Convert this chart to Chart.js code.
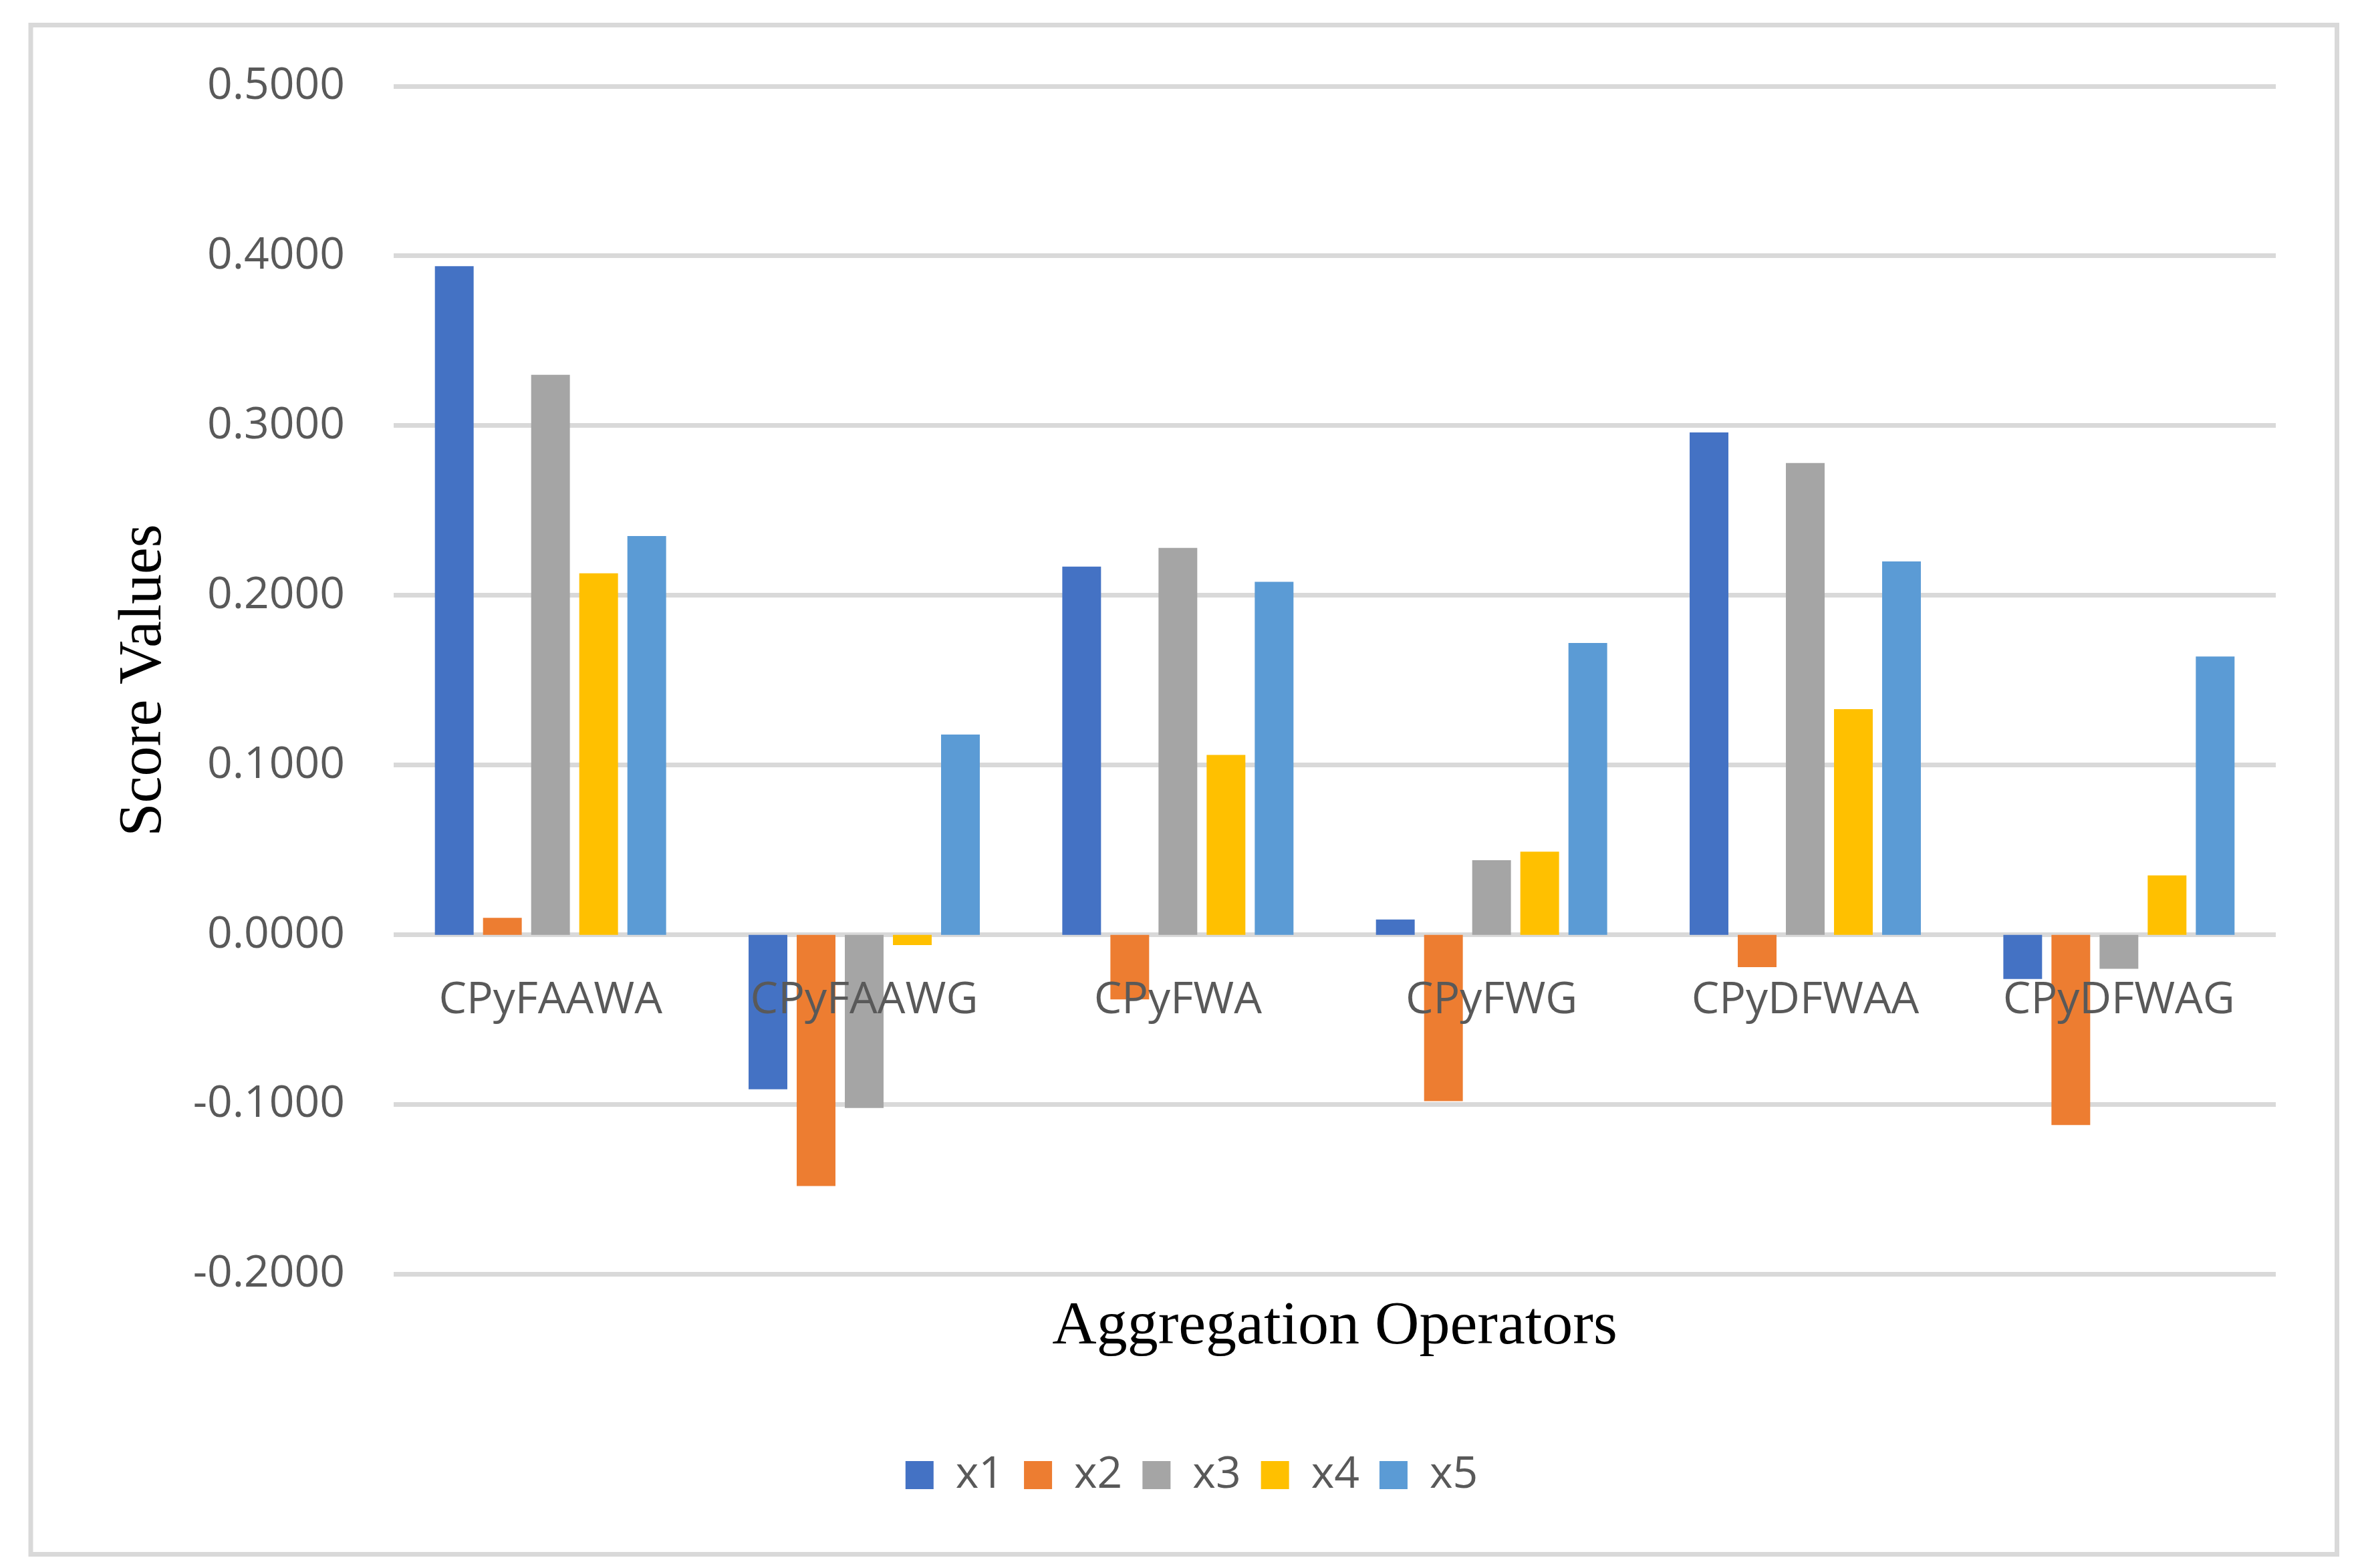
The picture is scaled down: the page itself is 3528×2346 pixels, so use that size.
<!DOCTYPE html>
<html>
<head>
<meta charset="utf-8">
<style>
  html, body { margin: 0; padding: 0; background: #fff; }
  #chart { display: block; }
</style>
<script src="https://cdn.jsdelivr.net/npm/chart.js@4.4.1/dist/chart.umd.min.js"></script>
</head>
<body>
<canvas id="chart" width="3528" height="2346" style="width:3528px;height:2346px"></canvas>
<script>
var categories = ['CPyFAAWA', 'CPyFAAWG', 'CPyFWA', 'CPyFWG', 'CPyDFWAA', 'CPyDFWAG'];
var x1 = [0.394, -0.091, 0.217, 0.009, 0.296, -0.026];
var x2 = [0.010, -0.148, -0.038, -0.098, -0.019, -0.112];
var x3 = [0.330, -0.102, 0.228, 0.044, 0.278, -0.020];
var x4 = [0.213, -0.006, 0.106, 0.049, 0.133, 0.035];
var x5 = [0.235, 0.118, 0.208, 0.172, 0.220, 0.164];
var seriesNames = ['x1', 'x2', 'x3', 'x4', 'x5'];
var yMin = -0.2, yMax = 0.5, yStep = 0.1;

(function () {
  var el = document.getElementById('chart');
  if (!el || typeof Chart === 'undefined') return;

  var colors = ['#4472C4', '#ED7D31', '#A5A5A5', '#FFC000', '#5B9BD5'];
  var values = [x1, x2, x3, x4, x5];
  var tickFont = { family: "'Open Sans', sans-serif", size: 66 };
  var serif = "'Liberation Serif', serif";

  // white page + light grey frame round the chart
  var frame = {
    id: 'frame',
    beforeDraw: function (chart) {
      var c = chart.ctx;
      c.save();
      c.fillStyle = '#fff';
      c.fillRect(0, 0, chart.width, chart.height);
      c.strokeStyle = '#d9d9d9';
      c.lineWidth = 7;
      c.strokeRect(46, 37.5, 3450.5, 2288);
      c.restore();
    }
  };

  // vertical axis title
  var yTitle = {
    id: 'yTitle',
    afterDraw: function (chart) {
      var a = chart.chartArea;
      var c = chart.ctx;
      c.save();
      c.translate(240, (a.top + a.bottom) / 2);
      c.rotate(-Math.PI / 2);
      c.font = '90px ' + serif;
      c.fillStyle = '#000';
      c.textAlign = 'center';
      c.textBaseline = 'alphabetic';
      c.fillText('Score Values', 0, 0);
      c.restore();
    }
  };

  var datasets = seriesNames.map(function (name, i) {
    return {
      label: name,
      data: values[i],
      backgroundColor: colors[i],
      borderWidth: 0,
      categoryPercentage: 0.767,
      barPercentage: 0.805
    };
  });

  new Chart(el.getContext('2d'), {
    type: 'bar',
    data: { labels: categories, datasets: datasets },
    plugins: [frame, yTitle],
    options: {
      responsive: false,
      devicePixelRatio: 1,
      animation: false,
      layout: { padding: { left: 161, right: 123, top: 129, bottom: 96 } },
      plugins: {
        tooltip: { enabled: false },
        title: {
          display: true,
          text: 'Aggregation Operators',
          position: 'bottom',
          fullSize: false,
          weight: 500,
          color: '#000',
          font: { family: serif, size: 92, weight: 'normal' },
          padding: { top: 24, bottom: 103 }
        },
        legend: {
          display: true,
          position: 'bottom',
          labels: {
            color: '#595959',
            font: tickFont,
            boxWidth: 42,
            boxHeight: 42,
            padding: 30
          }
        }
      },
      scales: {
        x: {
          position: { y: 0 },
          grid: { display: false, drawTicks: false },
          border: { display: false },
          ticks: { z: 1, color: '#595959', font: tickFont, padding: 59, maxRotation: 0, autoSkip: false }
        },
        y: {
          min: yMin,
          max: yMax,
          afterFit: function (scale) { scale.width = 428; },
          grid: { color: '#d9d9d9', lineWidth: 7, drawTicks: false },
          border: { display: false },
          ticks: {
            stepSize: yStep,
            color: '#595959',
            font: tickFont,
            padding: 73,
            callback: function (v) {
              var n = Math.abs(v) < 1e-9 ? 0 : Number(v);
              return n.toFixed(4);
            }
          }
        }
      }
    }
  });
})();
</script>
</body>
</html>
